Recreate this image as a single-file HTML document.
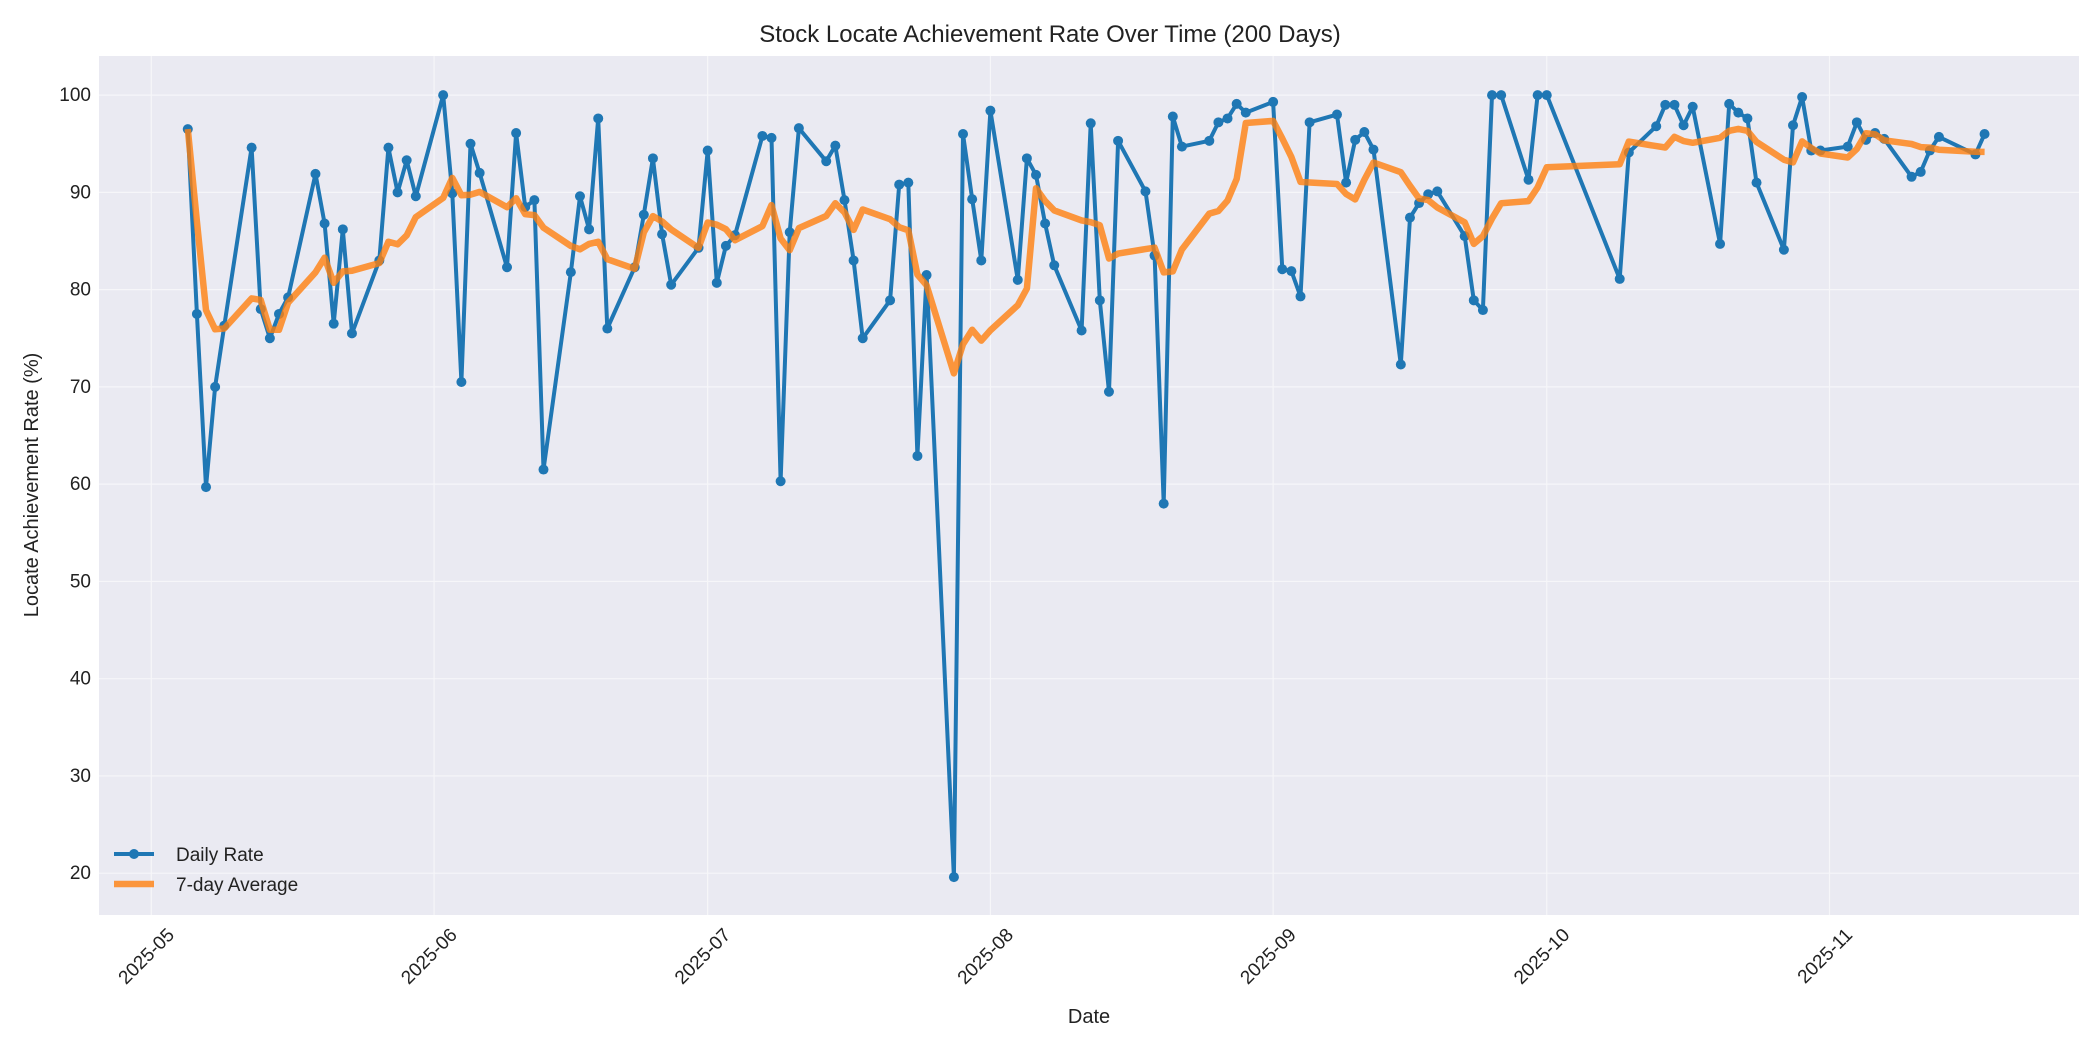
<!DOCTYPE html>
<html><head><meta charset="utf-8"><style>
body{margin:0;background:#fff;}
svg{display:block;font-family:"Liberation Sans","DejaVu Sans",sans-serif;}
</style></head><body>
<svg id="chart" width="2100" height="1050">
<rect x="99" y="56" width="1980" height="859" fill="#eaeaf2"/>
<g id="grid"></g><g id="series"></g><g id="axes"></g>
<text x="1050" y="42" text-anchor="middle" font-size="24" fill="#222">Stock Locate Achievement Rate Over Time (200 Days)</text>
<text x="1089" y="1023" text-anchor="middle" font-size="20" fill="#222">Date</text>
<text transform="translate(38,485) rotate(-90)" text-anchor="middle" font-size="20" fill="#222">Locate Achievement Rate (%)</text>
<g>
<g><line x1="114" y1="854" x2="154" y2="854" stroke="#1f77b4" stroke-width="4"/><circle cx="134" cy="854" r="5" fill="#1f77b4"/><text x="176" y="861" font-size="19" fill="#222">Daily Rate</text></g>
<g><line x1="114" y1="884" x2="154" y2="884" stroke="#ff7f0e" stroke-opacity="0.8" stroke-width="6.5"/><text x="176" y="891" font-size="19" fill="#222">7-day Average</text></g>
</g>
</svg>
<script>
const dayOffsets=[4,5,6,7,8,11,12,13,14,15,18,19,20,21,22,25,26,27,28,29,32,33,34,35,36,39,40,41,42,43,46,47,48,49,50,53,54,55,56,57,60,61,62,63,64,67,68,69,70,71,74,75,76,77,78,81,82,83,84,85,88,89,90,91,92,95,96,97,98,99,102,103,104,105,106,109,110,111,112,113,116,117,118,119,120,123,124,125,126,127,130,131,132,133,134,137,138,139,140,141,144,145,146,147,148,151,152,153,161,162,165,166,167,168,169,172,173,174,175,176,179,180,181,182,183,186,187,188,189,190,193,194,195,196,200,201];
const dailyRate=[96.5,77.5,59.7,70,76.3,94.6,78,75,77.5,79.2,91.9,86.8,76.5,86.2,75.5,83,94.6,90,93.3,89.6,100,89.9,70.5,95,92,82.3,96.1,88.5,89.2,61.5,81.8,89.6,86.2,97.6,76,82.3,87.7,93.5,85.7,80.5,84.3,94.3,80.7,84.5,85.6,95.8,95.6,60.3,85.9,96.6,93.2,94.8,89.2,83,75,78.9,90.8,91,62.9,81.5,19.6,96,89.3,83,98.4,81,93.5,91.8,86.8,82.5,75.8,97.1,78.9,69.5,95.3,90.1,83.5,58,97.8,94.7,95.3,97.2,97.6,99.1,98.2,99.3,82.1,81.9,79.3,97.2,98,91,95.4,96.2,94.4,72.3,87.4,88.9,89.8,90.1,85.5,78.9,77.9,100,100,91.3,100,100,81.1,94.1,96.8,99,99,96.9,98.8,84.7,99.1,98.2,97.6,91,84.1,96.9,99.8,94.3,94.3,94.7,97.2,95.4,96.1,95.5,91.6,92.1,94.3,95.7,93.9,96];
const xTickLabels=["2025-05","2025-06","2025-07","2025-08","2025-09","2025-10","2025-11"];
const xTickDays=[0,31,61,92,123,153,184];
const yTicks=[20,30,40,50,60,70,80,90,100];
const NS="http://www.w3.org/2000/svg";
const X=d=>151.3+d*(1829.5-151.3)/184;
const Y=v=>873.2-(v-20)*(873.2-95.1)/80;
function mk(tag,attrs,parent){const e=document.createElementNS(NS,tag);for(const k in attrs)e.setAttribute(k,attrs[k]);parent.appendChild(e);return e;}
const grid=document.getElementById('grid'),axes=document.getElementById('axes'),series=document.getElementById('series');
yTicks.forEach(v=>{
 const l=mk('line',{x1:99,x2:2079,y1:Y(v),y2:Y(v),stroke:'#f6f6f9','stroke-width':1.2},grid);
 
 
 const t=mk('text',{x:91,y:Y(v)+6,'text-anchor':'end','font-size':19,fill:'#222'},axes);
 t.textContent=v;
 
 
});
xTickDays.forEach((d,i)=>{
 const l=mk('line',{x1:X(d),x2:X(d),y1:56,y2:915,stroke:'#f6f6f9','stroke-width':1.2},grid);
 
 
 const t=mk('text',{x:0,y:0,'text-anchor':'end','font-size':19,fill:'#222',transform:`translate(${X(d)+24},${936}) rotate(-45)`},axes);
 t.textContent=xTickLabels[i];
 
 
});
const avg=dailyRate.map((v,i)=>{const s=dailyRate.slice(Math.max(0,i-6),i+1);return s.reduce((a,b)=>a+b,0)/s.length;});
const pts=dailyRate.map((v,i)=>X(dayOffsets[i]).toFixed(1)+','+Y(v).toFixed(1)).join(' ');
const dl=mk('polyline',{points:pts,fill:'none',stroke:'#1f77b4','stroke-width':4,'stroke-linejoin':'round'},series);


dailyRate.forEach((v,i)=>{
 const c=mk('circle',{cx:X(dayOffsets[i]),cy:Y(v),r:5,fill:'#1f77b4'},series);
 
 
});
const apts=avg.map((v,i)=>X(dayOffsets[i]).toFixed(1)+','+Y(v).toFixed(1)).join(' ');
const al=mk('polyline',{points:apts,fill:'none',stroke:'#ff7f0e','stroke-opacity':0.8,'stroke-width':6.5,'stroke-linejoin':'round'},series);


</script>
</body></html>
